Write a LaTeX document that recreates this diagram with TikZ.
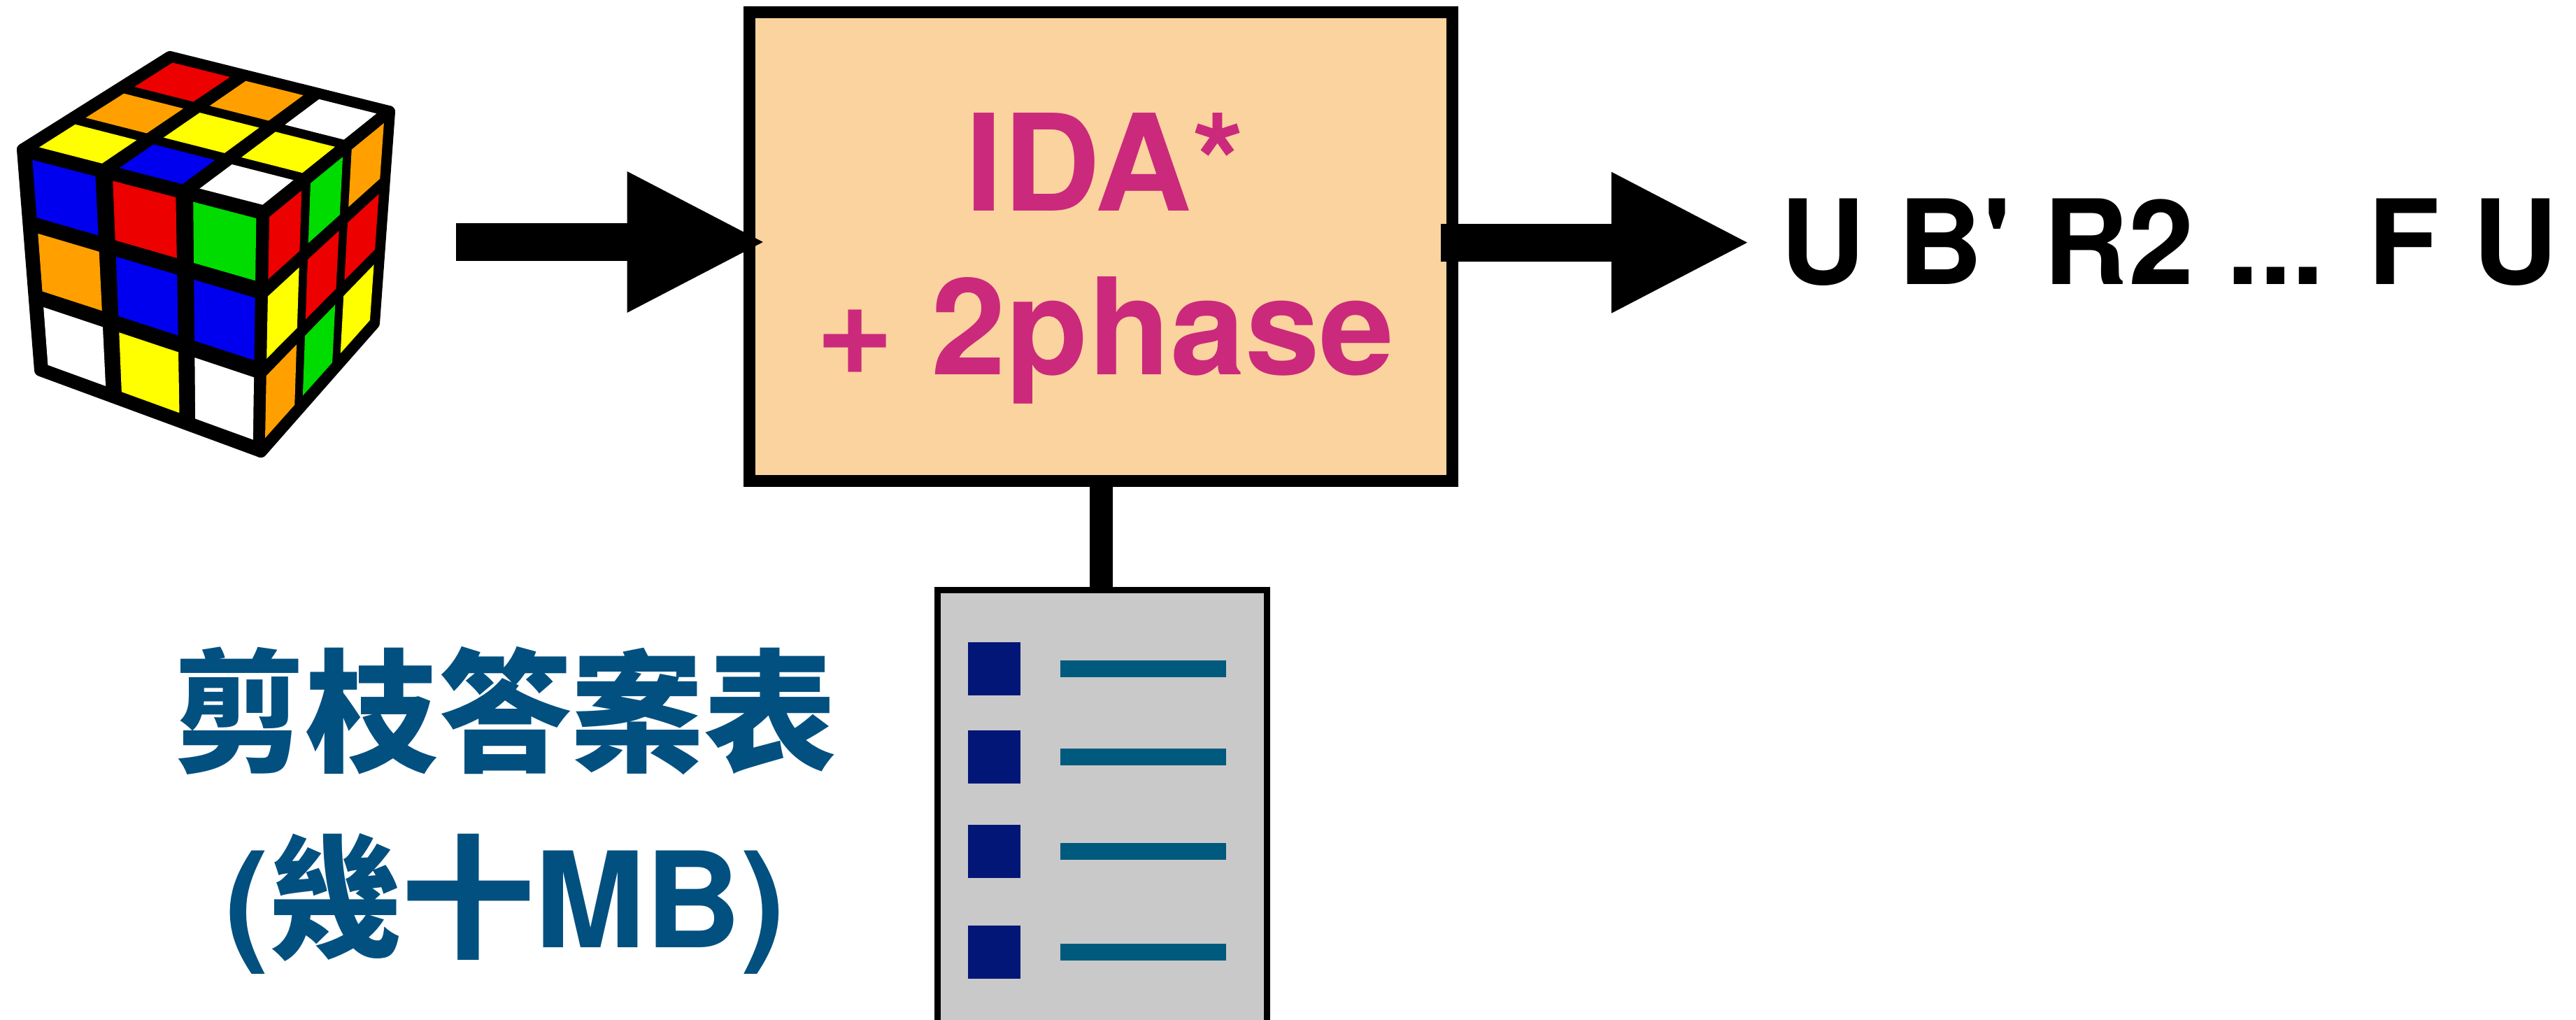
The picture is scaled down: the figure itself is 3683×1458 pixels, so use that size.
\documentclass[tikz,border=0pt]{standalone}
\usepackage{fontspec}
\setmainfont{texgyreheros}[Extension=.otf, UprightFont=*-regular, BoldFont=*-bold]
\newfontfamily\movesfont{texgyreheros}[Extension=.otf, UprightFont=*-regular, BoldFont=*-bold, Ligatures=TeXOff]
\newfontfamily\cjk{Noto Sans CJK TC}
\usetikzlibrary{calc, arrows.meta, positioning}

\definecolor{peach}{RGB}{250,211,159}
\definecolor{idapink}{RGB}{203,41,123}
\definecolor{tablegray}{RGB}{201,201,201}
\definecolor{bulletblue}{RGB}{2,22,120}
\definecolor{entryteal}{RGB}{0,90,125}
\definecolor{pruneblue}{RGB}{2,80,128}
\definecolor{cubered}{RGB}{236,0,0}
\definecolor{cubeorange}{RGB}{255,160,0}
\definecolor{cubeyellow}{RGB}{255,255,0}
\definecolor{cubegreen}{RGB}{0,220,0}
\definecolor{cubeblue}{RGB}{0,0,238}

\tikzstyle{algobox} = [rectangle, draw=black, line width=0.17cm, fill=peach, minimum width=10.05cm, minimum height=6.70cm]
\tikzstyle{algolabel} = [text=idapink, align=center, font=\bfseries\fontsize{54.6}{66.3}\selectfont]
\tikzstyle{moves} = [anchor=base west, inner sep=0, font=\movesfont\bfseries\fontsize{47.8}{58}\selectfont]
\tikzstyle{tablebox} = [rectangle, draw=black, line width=0.09cm, fill=tablegray, minimum width=4.71cm, minimum height=6.32cm]
\tikzstyle{bullet} = [rectangle, fill=bulletblue, minimum size=0.75cm, inner sep=0]
\tikzstyle{entry} = [line width=0.24cm, draw=entryteal]
\tikzstyle{prune} = [text=pruneblue, font=\bfseries\fontsize{54}{65}\selectfont]
\tikzstyle{arrow} = [line width=0.54cm, -{Triangle[length=1.99cm, width=1.86cm]}]
\tikzstyle{link} = [line width=0.33cm]
\tikzstyle{facet} = [fill=black, draw=black, line width=0.18cm, line join=round]

% one face of the cube: corners #1..#4, nine sticker colours row by row
\newcommand{\cubeface}[5]{%
  \draw [facet] (#1) -- (#2) -- (#3) -- (#4) -- cycle;
  \foreach \c [count=\k from 0] in {#5} {
    \pgfmathsetmacro{\ua}{mod(\k,3)/3+0.036}
    \pgfmathsetmacro{\ub}{mod(\k,3)/3+0.2973}
    \pgfmathsetmacro{\va}{floor(\k/3)/3+0.036}
    \pgfmathsetmacro{\vb}{floor(\k/3)/3+0.2973}
    \fill [\c] ($($(#1)!\ua!(#2)$)!\va!($(#4)!\ua!(#3)$)$)
      -- ($($(#1)!\ub!(#2)$)!\va!($(#4)!\ub!(#3)$)$)
      -- ($($(#1)!\ub!(#2)$)!\vb!($(#4)!\ub!(#3)$)$)
      -- ($($(#1)!\ua!(#2)$)!\vb!($(#4)!\ua!(#3)$)$) -- cycle;
  }
}

\begin{document}
\begin{tikzpicture}[x=0.01cm, y=-0.01cm]
\useasboundingbox (0,0) rectangle (3683,1458);

% scrambled cube
\coordinate (cT) at (243,82);
\coordinate (cL) at (33,214);
\coordinate (cR) at (556,160);
\coordinate (cF) at (379,303);
\coordinate (cBL) at (58,529);
\coordinate (cBF) at (373,645);
\coordinate (cBR) at (534,462);
\cubeface{cT}{cR}{cF}{cL}{cubered,cubeorange,white,cubeorange,cubeyellow,cubeyellow,cubeyellow,cubeblue,white}
\cubeface{cL}{cF}{cBF}{cBL}{cubeblue,cubered,cubegreen,cubeorange,cubeblue,cubeblue,white,cubeyellow,white}
\cubeface{cF}{cR}{cBR}{cBF}{cubered,cubegreen,cubeorange,cubeyellow,cubered,cubered,cubeorange,cubegreen,cubeyellow}
\coordinate (cubeout) at (652,346);

\node (algo) [algobox] at (1574,352.5) {};
\node (algotext) [algolabel] at (1580,369.5) {IDA*\\+ 2phase};
\node (moves) [moves] at (2545,407) {U B' R2 ... F U};

\node (table) [tablebox] at (1576,1159.5) {};
\foreach \y [count=\n] in {956,1082,1217,1361} {
  \node (bullet\n) [bullet] at (1421.5,\y) {};
  \draw [entry] ([xshift=0.56cm]bullet\n.east) -- ++(2.37cm,0);
}

\node (prunetitle) [prune] at (722,1016) {\cjk 剪枝答案表};
\node (prunesize) [prune, below of=prunetitle, node distance=2.76cm] {({\cjk 幾十}MB)};

\draw [arrow, shorten >=-0.33cm] (cubeout) -- (cubeout -| algo.west);
\draw [arrow, shorten <=-0.25cm, shorten >=0.42cm] (algo.east |- moves.west) -- (moves.west);
\draw [link] (algo.south) -- (algo.south |- table.north);

\end{tikzpicture}
\end{document}
